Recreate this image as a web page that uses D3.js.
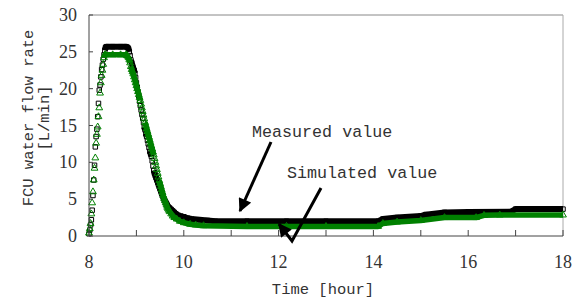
<!DOCTYPE html>
<html>
<head>
<meta charset="utf-8">
<script src="https://cdn.jsdelivr.net/npm/d3@7"></script>
<style>
  body { margin: 0; background: #fff; }
  .tick-label { font-family: "Liberation Serif", "Times New Roman", "DejaVu Serif", serif; font-size: 18px; fill: #333; }
  .mono-label { font-family: "Liberation Mono", "Courier New", monospace; fill: #333; }
</style>
</head>
<body>
<div id="chart"></div>
<script>
// Measured FCU water flow rate, minutes after 8:00 and L/min
const measMin = [0, 1, 2, 3, 4, 5, 6, 7, 8, 9, 10, 11, 12, 13, 14, 15, 16, 17, 18, 19, 20, 21, 22, 30, 40, 47,
  49, 50, 51, 52, 53, 54, 55, 56, 57, 58, 59, 60, 61, 62, 63, 64, 65, 66, 67, 68, 69, 70, 71, 72, 73, 74,
  75, 76, 77, 78, 79, 80, 81, 82, 83, 84, 85, 86, 87, 88, 89, 90, 91, 92, 93, 94, 95, 96, 97, 98, 99, 100,
  102, 104, 106, 108, 110, 113, 116, 120, 125, 130, 140, 150, 160, 200, 250, 300, 366, 372, 390, 420, 426,
  450, 480, 534, 540, 600];
const measVal = [0.3, 0.8, 1.5, 2.2, 3.5, 5.5, 7.6, 9.6, 12.1, 13.5, 14.5, 16.2, 18.0, 19.8, 20.5, 21.6, 22.6, 23.2, 24.0, 24.6, 25.2, 25.6, 25.7, 25.7, 25.7, 25.7,
  25.6, 25.4, 25.0, 24.5, 23.9, 23.5, 23.1, 22.8, 22.5, 22.1, 21.5, 20.8, 20.2, 19.6, 19.0, 18.3, 17.7, 17.1, 16.5, 16.0, 15.4, 14.8, 14.4, 13.9, 13.5, 13.0,
  12.5, 12.0, 11.5, 11.2, 10.8, 10.2, 9.5, 8.9, 8.5, 8.2, 7.9, 7.6, 7.3, 7.0, 6.7, 6.4, 6.1, 5.8, 5.5, 5.3, 5.0, 4.8, 4.6, 4.4, 4.2, 4.0,
  3.8, 3.6, 3.4, 3.2, 3.0, 2.8, 2.7, 2.6, 2.4, 2.3, 2.2, 2.1, 2.0, 2.0, 2.0, 2.0, 2.0, 2.3, 2.5, 2.7, 2.9,
  3.2, 3.25, 3.3, 3.65, 3.65];

// Simulated FCU water flow rate, minutes after 8:00 and L/min
const simMin = [0, 1, 2, 3, 4, 5, 6, 7, 8, 9, 10, 11, 12, 13, 14, 15, 16, 17, 18, 19, 20, 21, 30, 40, 47,
  48, 49, 50, 51, 52, 53, 54, 55, 56, 57, 58, 59, 60, 61, 62, 63, 64, 65, 66, 67, 68, 69, 70, 71, 72, 73,
  74, 75, 76, 77, 78, 79, 80, 81, 82, 83, 84, 85, 86, 87, 88, 89, 90, 91, 92, 93, 94, 95, 96, 97, 98, 99,
  100, 101, 102, 104, 106, 108, 111, 115, 120, 128, 135, 145, 200, 250, 300, 366, 372, 390, 420, 450, 490,
  500, 520, 600];
const simVal = [0.4, 1.0, 1.7, 3.0, 4.5, 6.0, 7.6, 9.2, 10.6, 12.6, 13.8, 14.8, 16.2, 17.4, 19.4, 20.8, 21.8, 22.5, 23.3, 24.2, 24.6, 24.6, 24.6, 24.6, 24.6,
  24.5, 24.4, 24.2, 23.9, 23.5, 23.0, 22.6, 22.3, 22.0, 21.6, 21.2, 20.8, 20.4, 20.0, 19.6, 19.2, 18.8, 18.4, 17.9, 17.4, 16.9, 16.4, 15.9, 15.4, 15.0, 14.6,
  14.2, 13.8, 13.4, 13.0, 12.6, 12.2, 11.8, 11.4, 11.0, 10.5, 10.0, 9.5, 9.0, 8.5, 8.0, 7.5, 7.1, 6.7, 6.3, 5.9, 5.5, 5.1, 4.8, 4.5, 4.2, 3.9,
  3.7, 3.5, 3.3, 3.0, 2.7, 2.5, 2.3, 2.0, 1.8, 1.6, 1.5, 1.4, 1.3, 1.3, 1.3, 1.3, 1.7, 1.9, 2.1, 2.5, 2.5,
  2.8, 2.85, 2.85];

const xTicks = [8, 10, 12, 14, 16, 18];
const xMinorTicks = [9, 11, 13, 15, 17];
const yTicks = [0, 5, 10, 15, 20, 25, 30];

const labelMeasured = "Measured value";
const labelSimulated = "Simulated value";
const xTitle = "Time [hour]";
const yTitle = ["FCU water flow rate", "[L/min]"];

const width = 586, height = 300;
const margin = { top: 15, right: 23, bottom: 64, left: 89 };

const svg = d3.select("#chart").append("svg")
  .attr("width", width)
  .attr("height", height);

const x = d3.scaleLinear().domain([8, 18]).range([margin.left, width - margin.right]);
const y = d3.scaleLinear().domain([0, 30]).range([height - margin.bottom, margin.top]);

const toPoints = (mins, vals) => mins.map((m, i) => ({ t: 8 + m / 60, v: vals[i] }));
const measured = toPoints(measMin, measVal);
const simulated = toPoints(simMin, simVal);

// frame
svg.append("line").attr("x1", x(8)).attr("x2", x(18)).attr("y1", y(30)).attr("y2", y(30))
  .attr("stroke", "#888").attr("stroke-width", 1);
svg.append("line").attr("x1", x(18)).attr("x2", x(18)).attr("y1", y(30)).attr("y2", y(0))
  .attr("stroke", "#aaa").attr("stroke-width", 1);

// series: thick band where markers pile up, open markers everywhere
function drawSeries(pts, color, bandWidth, marker) {
  let runs = [], run = [pts[0]];
  for (let i = 1; i < pts.length; i++) {
    if (Math.abs(y(pts[i].v) - y(pts[i - 1].v)) < 3) {
      run.push(pts[i]);
    } else {
      if (run.length > 1) runs.push(run);
      run = [pts[i]];
    }
  }
  if (run.length > 1) runs.push(run);

  const line = d3.line().x(d => x(d.t)).y(d => y(d.v));
  svg.append("g").selectAll("path").data(runs).enter().append("path")
    .attr("d", line)
    .attr("fill", "none")
    .attr("stroke", color)
    .attr("stroke-width", bandWidth)
    .attr("stroke-linejoin", "round");

  const sym = d3.symbol().type(marker === "square" ? d3.symbolSquare : d3.symbolTriangle).size(20);
  svg.append("g").selectAll("path").data(pts).enter().append("path")
    .attr("d", sym)
    .attr("transform", d => `translate(${x(d.t)},${y(d.v)})`)
    .attr("fill", "none")
    .attr("stroke", color)
    .attr("stroke-width", 1);
}

drawSeries(measured, "#000", 6, "square");
drawSeries(simulated, "#008000", 5.5, "triangle");

// axes
svg.append("line").attr("x1", x(8)).attr("x2", x(18)).attr("y1", y(0)).attr("y2", y(0))
  .attr("stroke", "#444").attr("stroke-width", 1);
svg.append("line").attr("x1", x(8)).attr("x2", x(8)).attr("y1", y(0)).attr("y2", y(30))
  .attr("stroke", "#444").attr("stroke-width", 1);

svg.append("g").selectAll("line").data(xTicks.concat(xMinorTicks)).enter().append("line")
  .attr("x1", d => x(d)).attr("x2", d => x(d))
  .attr("y1", y(0)).attr("y2", y(0) - 6)
  .attr("stroke", "#444");
svg.append("g").selectAll("line").data(yTicks).enter().append("line")
  .attr("x1", x(8)).attr("x2", x(8) + 4)
  .attr("y1", d => y(d)).attr("y2", d => y(d))
  .attr("stroke", "#444");

svg.append("g").selectAll("text").data(xTicks).enter().append("text")
  .attr("class", "tick-label")
  .attr("x", d => x(d)).attr("y", y(0) + 32)
  .attr("text-anchor", "middle")
  .text(d => d);
svg.append("g").selectAll("text").data(yTicks).enter().append("text")
  .attr("class", "tick-label")
  .attr("x", x(8) - 12).attr("y", d => y(d) + 6)
  .attr("text-anchor", "end")
  .text(d => d);

// titles
svg.append("text")
  .attr("class", "mono-label")
  .attr("x", (x(8) + x(18)) / 2 - 3).attr("y", 294)
  .attr("text-anchor", "middle")
  .style("font-size", "15.5px")
  .text(xTitle);
svg.append("g").selectAll("text").data(yTitle).enter().append("text")
  .attr("class", "mono-label")
  .attr("transform", (d, i) => `translate(${33 + i * 16},118) rotate(-90)`)
  .attr("text-anchor", "middle")
  .style("font-size", "15.5px")
  .text(d => d);

// annotations
svg.append("text").attr("class", "mono-label").attr("x", 252).attr("y", 137)
  .style("font-size", "16.7px")
  .text(labelMeasured);
svg.append("text").attr("class", "mono-label").attr("x", 287).attr("y", 178)
  .style("font-size", "16.7px")
  .text(labelSimulated);

svg.append("defs").append("marker")
  .attr("id", "head")
  .attr("viewBox", "0 0 10 10")
  .attr("refX", 9).attr("refY", 5)
  .attr("markerWidth", 5).attr("markerHeight", 4.5)
  .attr("markerUnits", "strokeWidth")
  .attr("orient", "auto")
  .append("path").attr("d", "M0,0L10,5L0,10z").attr("fill", "#000");

svg.append("path")
  .attr("d", "M271,142L240,211")
  .attr("stroke", "#000").attr("stroke-width", 3).attr("fill", "none")
  .attr("marker-end", "url(#head)");
svg.append("path")
  .attr("d", "M321,188L292,241L279,224")
  .attr("stroke", "#000").attr("stroke-width", 3).attr("fill", "none")
  .attr("stroke-linejoin", "miter")
  .attr("marker-end", "url(#head)");
</script>
</body>
</html>
